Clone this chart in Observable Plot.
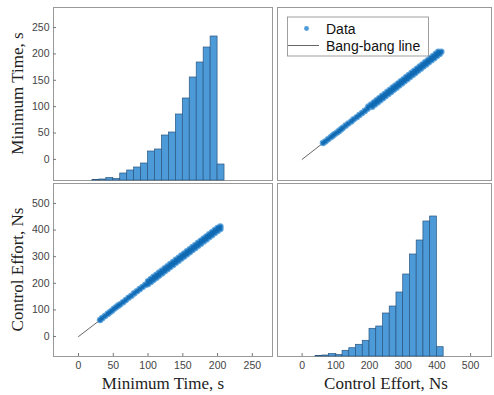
<!DOCTYPE html>
<html><head><meta charset="utf-8">
<script src="https://cdn.jsdelivr.net/npm/d3@7"></script>
<script src="https://cdn.jsdelivr.net/npm/@observablehq/plot@0.6"></script>
<style>
html,body{margin:0;padding:0;background:#fff;}
#chart{position:relative;width:494px;height:395px;overflow:hidden;background:#fff;}
#chart svg{position:absolute;}
</style></head><body><div id="chart"></div>
<script>
// ---------- data ----------
const timeTicks = [0, 50, 100, 150, 200, 250];
const effortTicks = [0, 100, 200, 300, 400, 500];
const timeBinEdges = [20, 30, 40, 50, 60, 70, 80, 90, 100, 110, 120, 130, 140, 150, 160, 170, 180, 190, 200, 210];
const timeCounts = [0.5, 1, 2.5, 1.5, 7, 10, 13, 17, 29, 31, 45, 48, 66, 82, 103, 118, 133, 144, 16];
const effortBinEdges = [40, 60, 80, 100, 120, 140, 160, 180, 200, 220, 240, 260, 280, 300, 320, 340, 360, 380, 400, 420];
const effortCounts = [0.5, 1, 2.5, 1.5, 5.7, 8.3, 11.7, 15.7, 27.7, 30, 43, 50, 64, 82, 102, 116, 135, 140, 9.3];
const minTime = [31, 34, 38, 42, 45, 48, 51, 54, 57, 60, 64, 68, 72, 76, 80, 84, 88, 92, 96,
  100, 100, 104, 104, 108, 108, 112, 112, 116, 116, 120, 120, 124, 124, 128, 128, 132, 132, 136, 136,
  140, 140, 144, 144, 148, 148, 152, 152, 156, 156, 160, 160, 164, 164, 168, 168, 172, 172, 176, 176,
  180, 180, 184, 184, 188, 188, 192, 192, 196, 196, 200, 200, 204, 204];
const controlEffort = [62, 69, 77, 85, 91, 97, 104, 110, 116, 121, 129, 137, 146, 153, 162, 170, 178, 186, 194,
  197, 208, 205, 216, 213, 224, 221, 232, 229, 240, 237, 248, 245, 256, 253, 264, 261, 272, 269, 280,
  277, 288, 285, 296, 293, 304, 301, 312, 309, 320, 317, 328, 325, 336, 333, 344, 341, 352, 349, 360,
  357, 368, 365, 376, 373, 384, 381, 392, 389, 400, 397, 408, 404, 413];
const bangTime = [0, 205];
const bangEffort = [0, 410];
const legendLabels = ["Data", "Bang-bang line"];
const axisLabels = ["Minimum Time, s", "Control Effort, Ns"];

// ---------- layout ----------
const timeDomainX = [-36, 279];
const timeDomainY = [-40, 288];
const effortDomainX = [-73, 562];
const effortDomainY = [-75, 575];
const countDomain = [0, 173];

const blue = "#0a66b0";
const blueLight = "#4f9bd8";
const barFill = "#4d9ad8";
const barStroke = "#2a5680";
const frameColor = "#999";
const tickText = "#444";
const sansFont = "'Liberation Sans', Arial, Helvetica, sans-serif";
const serifFont = "'Liberation Serif', 'Times New Roman', serif";

const chart = document.getElementById("chart");
const baseStyle = {background: "transparent", fontFamily: sansFont, fontSize: "10.5px", overflow: "visible"};

function place(svg, left, top) {
  svg.style.left = left + "px";
  svg.style.top = top + "px";
  chart.appendChild(svg);
}

const timeBins = timeCounts.map((c, i) => ({x1: timeBinEdges[i], x2: timeBinEdges[i + 1], y: c}));
const effortBins = effortCounts.map((c, i) => ({x1: effortBinEdges[i], x2: effortBinEdges[i + 1], y: c}));
const points = minTime.map((t, i) => ({t, e: controlEffort[i]}));
const bang = bangTime.map((t, i) => ({t, e: bangEffort[i]}));

function scatterMarks(xk, yk) {
  return [
    Plot.line(bang, {x: xk, y: yk, stroke: "#555", strokeWidth: 0.9}),
    Plot.dot(points, {x: xk, y: yk, r: 3.3, fill: blueLight, fillOpacity: 0.9, stroke: "none"}),
    Plot.dot(points, {x: xk, y: yk, r: 2.1, fill: blue, fillOpacity: 0.85, stroke: "none"})
  ];
}

// Top-left: axes (Minimum Time y-axis) + frame
place(Plot.plot({
  width: 274, height: 182, marginLeft: 53, marginRight: 2, marginTop: 7, marginBottom: 2,
  style: baseStyle,
  x: {domain: timeDomainX, axis: null},
  y: {domain: timeDomainY, axis: null},
  marks: [
    Plot.frame({stroke: frameColor}),
    Plot.axisY(timeTicks, {anchor: "left", tickSize: -3, tickPadding: 7, stroke: "#777", fill: tickText, fontSize: 10.5, label: null})
  ]
}), 0, 0);
// Top-left: histogram of Minimum Time (hidden axes)
place(Plot.plot({
  width: 274, height: 182, marginLeft: 53, marginRight: 2, marginTop: 7, marginBottom: 2,
  style: baseStyle,
  x: {domain: timeDomainX, axis: null},
  y: {domain: countDomain, axis: null},
  marks: [
    Plot.rectY(timeBins, {x1: "x1", x2: "x2", y: "y", fill: barFill, stroke: barStroke, strokeWidth: 0.7})
  ]
}), 0, 0);

// Top-right: Minimum Time vs Control Effort
place(Plot.plot({
  width: 218, height: 182, marginLeft: 2, marginRight: 2, marginTop: 7, marginBottom: 2,
  style: baseStyle,
  x: {domain: effortDomainX, axis: null},
  y: {domain: timeDomainY, axis: null},
  marks: [Plot.frame({stroke: frameColor}), ...scatterMarks("e", "t")]
}), 275, 0);

// Bottom-left: Control Effort vs Minimum Time
place(Plot.plot({
  width: 274, height: 214, marginLeft: 53, marginRight: 2, marginTop: 2, marginBottom: 39,
  style: baseStyle,
  x: {domain: timeDomainX, axis: null},
  y: {domain: effortDomainY, axis: null},
  marks: [
    Plot.frame({stroke: frameColor}),
    Plot.axisY(effortTicks, {anchor: "left", tickSize: -3, tickPadding: 7, stroke: "#777", fill: tickText, fontSize: 10.5, label: null}),
    Plot.axisX(timeTicks, {anchor: "bottom", tickSize: -3, tickPadding: 8, stroke: "#777", fill: tickText, fontSize: 10.5, label: null}),
    ...scatterMarks("t", "e")
  ]
}), 0, 181);

// Bottom-right: histogram of Control Effort
place(Plot.plot({
  width: 218, height: 214, marginLeft: 2, marginRight: 2, marginTop: 2, marginBottom: 39,
  style: baseStyle,
  x: {domain: effortDomainX, axis: null},
  y: {domain: countDomain, axis: null},
  marks: [
    Plot.frame({stroke: frameColor}),
    Plot.axisX(effortTicks, {anchor: "bottom", tickSize: -3, tickPadding: 8, stroke: "#777", fill: tickText, fontSize: 10.5, label: null}),
    Plot.rectY(effortBins, {x1: "x1", x2: "x2", y: "y", fill: barFill, stroke: barStroke, strokeWidth: 0.7})
  ]
}), 275, 181);

// Overlay: axis titles and legend
const ov = d3.create("svg").attr("width", 494).attr("height", 395)
  .style("left", "0px").style("top", "0px").style("pointer-events", "none");
function title(x, y, rot, s) {
  ov.append("text").attr("transform", `translate(${x},${y})` + (rot ? " rotate(-90)" : ""))
    .attr("text-anchor", "middle").attr("font-family", serifFont).attr("font-size", 17)
    .attr("fill", "#222").text(s);
}
title(23, 93.5, true, axisLabels[0]);
title(23, 269.5, true, axisLabels[1]);
title(163, 389, false, axisLabels[0]);
title(386, 389, false, axisLabels[1]);
// legend
const lg = ov.append("g");
lg.append("rect").attr("x", 287.5).attr("y", 17).attr("width", 141).attr("height", 39)
  .attr("fill", "#fff").attr("stroke", "#888").attr("stroke-width", 0.8);
lg.append("circle").attr("cx", 306.5).attr("cy", 28.5).attr("r", 2.4).attr("fill", blueLight);
lg.append("line").attr("x1", 288).attr("x2", 319).attr("y1", 45.5).attr("y2", 45.5)
  .attr("stroke", "#555").attr("stroke-width", 0.9);
lg.append("text").attr("x", 326).attr("y", 34).attr("font-family", sansFont).attr("font-size", 14).attr("fill", "#111")
  .text(legendLabels[0]);
lg.append("text").attr("x", 326).attr("y", 50.5).attr("font-family", sansFont).attr("font-size", 14).attr("fill", "#111")
  .text(legendLabels[1]);
chart.appendChild(ov.node());
</script>
</body></html>
